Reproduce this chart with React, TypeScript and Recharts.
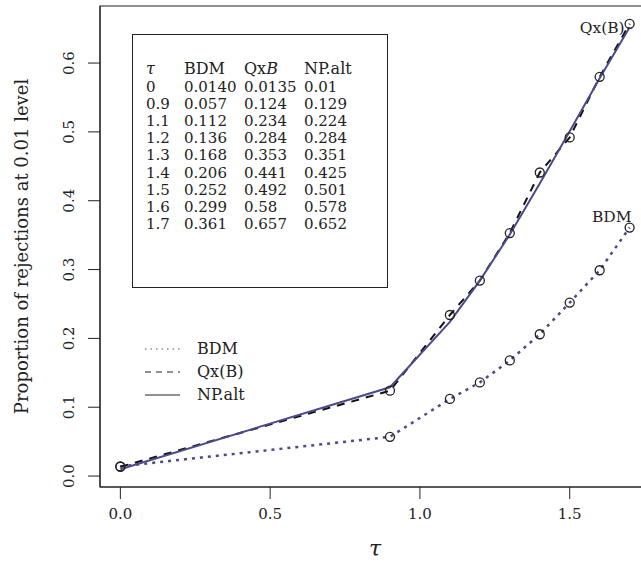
import { LineChart, Line, XAxis, YAxis, ReferenceArea } from 'recharts';

const TAU = [0, 0.9, 1.1, 1.2, 1.3, 1.4, 1.5, 1.6, 1.7];
const BDM = [0.014, 0.057, 0.112, 0.136, 0.168, 0.206, 0.252, 0.299, 0.361];
const QXB = [0.0135, 0.124, 0.234, 0.284, 0.353, 0.441, 0.492, 0.58, 0.657];
const NPALT = [0.01, 0.129, 0.224, 0.284, 0.351, 0.425, 0.501, 0.578, 0.652];

const TAU_TXT = ['0', '0.9', '1.1', '1.2', '1.3', '1.4', '1.5', '1.6', '1.7'];
const BDM_TXT = ['0.0140', '0.057', '0.112', '0.136', '0.168', '0.206', '0.252', '0.299', '0.361'];
const QXB_TXT = ['0.0135', '0.124', '0.234', '0.284', '0.353', '0.441', '0.492', '0.58', '0.657'];
const NP_TXT = ['0.01', '0.129', '0.224', '0.284', '0.351', '0.425', '0.501', '0.578', '0.652'];

const X_TICKS = [0, 0.5, 1, 1.5];
const Y_TICKS = [0, 0.1, 0.2, 0.3, 0.4, 0.5, 0.6];
const X_DOMAIN = [-0.068, 1.768];
const Y_DOMAIN = [-0.0159, 0.6829];

const data = TAU.map((t, i) => ({ tau: t, bdm: BDM[i], qxb: QXB[i], np: NPALT[i] }));

const FONT = '"DejaVu Serif", serif';
const INK = '#222';
const BLUE = '#4b4a8c';

function YTick({ x, y, payload }: any) {
  return (
    <text
      x={x}
      y={y}
      transform={`rotate(-90, ${x}, ${y})`}
      textAnchor="middle"
      fontFamily={FONT}
      fontSize={15}
      fill={INK}
    >
      {payload.value.toFixed(1)}
    </text>
  );
}

function Circle({ cx, cy }: any) {
  return <circle cx={cx} cy={cy} r={4.5} fill="none" stroke={INK} strokeWidth={1.3} />;
}

function endLabel(text: string, dx: number, dy: number) {
  return ({ x, y, index }: any) =>
    index === TAU.length - 1 ? (
      <text x={x + dx} y={y + dy} textAnchor="end" fontFamily={FONT} fontSize={15.5} fill={INK}>
        {text}
      </text>
    ) : null;
}

export default function App() {
  const rows = TAU_TXT.map((t, i) => [t, BDM_TXT[i], QXB_TXT[i], NP_TXT[i]]);
  const cols = [146, 184, 244, 304];
  return (
    <div style={{ position: 'absolute', left: 0, top: 0, width: 641, height: 563, overflow: 'hidden', background: '#fff' }}>
      <LineChart width={662} height={563} data={data} margin={{ top: 6, right: 12, bottom: 0, left: 0 }}>
        <XAxis
          dataKey="tau"
          type="number"
          domain={X_DOMAIN}
          ticks={X_TICKS}
          allowDataOverflow
          height={76}
          tickSize={12}
          tickMargin={9}
          tickFormatter={(v) => v.toFixed(1)}
          tick={{ fontFamily: FONT, fontSize: 15, fill: INK }}
          stroke={INK}
          label={({ viewBox }: any) => (
            <text
              x={viewBox.x + viewBox.width / 2}
              y={viewBox.y + 69}
              textAnchor="middle"
              fontFamily={FONT}
              fontStyle="italic"
              fontSize={22}
              fill={INK}
            >
              τ
            </text>
          )}
        />
        <YAxis
          type="number"
          domain={Y_DOMAIN}
          ticks={Y_TICKS}
          allowDataOverflow
          width={100}
          tickSize={12}
          tickMargin={14}
          tick={<YTick />}
          stroke={INK}
          label={({ viewBox }: any) => {
            const cx = 28;
            const cy = viewBox.y + viewBox.height / 2;
            return (
              <text
                x={cx}
                y={cy}
                transform={`rotate(-90, ${cx}, ${cy})`}
                textAnchor="middle"
                fontFamily={FONT}
                fontSize={18}
                fill={INK}
              >
                Proportion of rejections at 0.01 level
              </text>
            );
          }}
        />
        <ReferenceArea
          x1={X_DOMAIN[0]}
          x2={X_DOMAIN[1]}
          y1={Y_DOMAIN[0]}
          y2={Y_DOMAIN[1]}
          fill="none"
          stroke={INK}
          strokeWidth={1.2}
          ifOverflow="visible"
        />
        <Line
          dataKey="bdm"
          stroke={BLUE}
          strokeWidth={2.5}
          strokeDasharray="3 5"
          dot={<Circle />}
          label={endLabel('BDM', 2, -6)}
          isAnimationActive={false}
        />
        <Line
          dataKey="qxb"
          stroke="#111"
          strokeWidth={2}
          strokeDasharray="8 7"
          dot={<Circle />}
          label={endLabel('Qx(B)', -5, 9)}
          isAnimationActive={false}
        />
        <Line dataKey="np" stroke={BLUE} strokeWidth={2} dot={false} isAnimationActive={false} />
      </LineChart>
      <svg
        width={641}
        height={563}
        style={{ position: 'absolute', left: 0, top: 0, pointerEvents: 'none' }}
        fontFamily={FONT}
        fontSize={15}
        fill={INK}
      >
        <rect x={132.5} y={34.5} width={255} height={253} fill="none" stroke={INK} strokeWidth={1} />
        <g fontSize={16}>
          <text x={cols[0]} y={74} fontStyle="italic">τ</text>
          <text x={cols[1]} y={74}>BDM</text>
          <text x={cols[2]} y={74}>
            Qx<tspan fontStyle="italic">B</tspan>
          </text>
          <text x={cols[3]} y={74}>NP.alt</text>
        </g>
        {rows.map((r, i) =>
          r.map((c, j) => (
            <text key={`${i}-${j}`} x={cols[j]} y={92 + i * 17.1}>
              {c}
            </text>
          ))
        )}
        <line x1={145} x2={180} y1={349} y2={349} stroke={BLUE} strokeWidth={1.2} strokeDasharray="1.5 4" />
        <line x1={145} x2={180} y1={372} y2={372} stroke={INK} strokeWidth={1.2} strokeDasharray="6 5" />
        <line x1={145} x2={180} y1={395} y2={395} stroke={INK} strokeWidth={1.2} />
        <g fontSize={16}>
          <text x={197} y={354}>BDM</text>
          <text x={197} y={377}>Qx(B)</text>
          <text x={197} y={400}>NP.alt</text>
        </g>
      </svg>
    </div>
  );
}
